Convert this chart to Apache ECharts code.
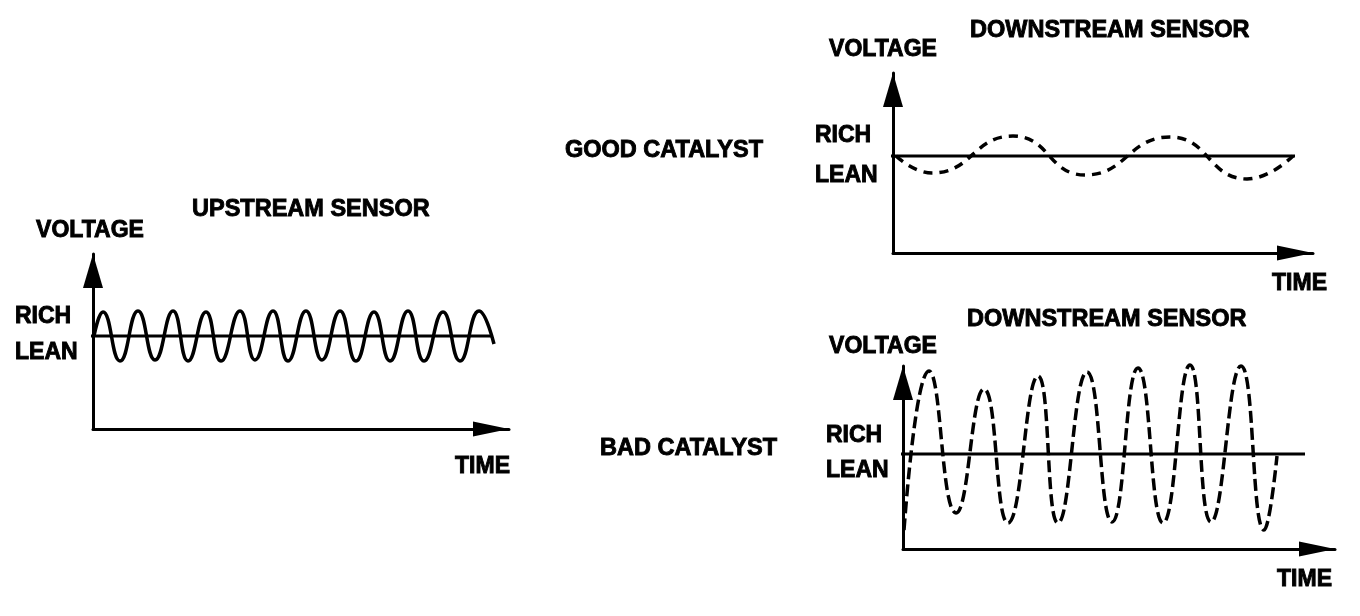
<!DOCTYPE html>
<html>
<head>
<meta charset="utf-8">
<title>Catalyst monitoring - oxygen sensor signals</title>
<script src="https://cdn.jsdelivr.net/npm/echarts@6/dist/echarts.min.js"></script>
<style>
  html, body { margin: 0; background: #fff; }
  #sensors { width: 1360px; height: 616px; }
</style>
</head>
<body>
<div id="sensors"></div>
<script>
// crest / trough readings: time from the voltage axis, voltage from the rich-lean switch point
const upstreamTime = [1, 10, 27, 45, 62, 80, 95, 113, 128, 147, 162, 180, 195, 213, 229, 247, 263, 281, 297, 315, 331, 350, 367, 386, 401];
const upstreamVoltage = [0, 24, -25, 25, -24, 25, -25, 24, -25, 25, -24, 25, -25, 25, -24, 25, -25, 24, -25, 25, -25, 24, -25, 25, -8];

const goodTime = [3, 39, 120, 192, 277, 354, 400];
const goodVoltage = [0, -17, 20, -19, 19, -23, 0];

const badTime = [1, 26, 53, 81, 105, 135, 155, 184, 209, 235, 260, 287, 308, 338, 361, 374];
const badVoltage = [-76, 83, -59, 65, -69, 78, -69, 82, -68, 86, -69, 89, -68, 88, -76, -2];

// rich / lean switch line, start and end time
const upstreamSwitch = [-77, 400];
const goodSwitch = [-78, 402];
const badSwitch = [-65, 402];

const zoneLabels = ["RICH", "LEAN"];
const axisNames = ["TIME", "VOLTAGE"];

const FONT = '"Liberation Sans", Arial, sans-serif';
const INK = "#000";
// a thin outline makes the bold face closer to the heavy print lettering
const text = (size) => ({
  fontSize: size,
  fontWeight: "bold",
  fontFamily: FONT,
  color: INK,
  textBorderColor: INK,
  textBorderWidth: 0.9,
});

function pairs(xs, ys) {
  return xs.map((x, i) => [x, ys[i]]);
}

function timeAxis(idx, max, nameGap, nameTop) {
  return {
    type: "value",
    gridIndex: idx,
    min: 0,
    max: max,
    name: axisNames[0],
    nameLocation: "end",
    nameGap: nameGap,
    nameTextStyle: Object.assign(text(23), {
      align: "right",
      verticalAlign: "top",
      padding: [nameTop, 0, 0, 0],
    }),
    axisLine: {
      onZero: false,
      symbol: ["none", "triangle"],
      symbolSize: [15, 36],
      symbolOffset: [0, -18],
      lineStyle: { color: INK, width: 3 },
    },
    axisTick: { show: false },
    axisLabel: { show: false },
    splitLine: { show: false },
  };
}

function voltAxis(idx, min, max, nameGap, shift, labelAt, margin) {
  return {
    type: "value",
    gridIndex: idx,
    min: min,
    max: max,
    name: axisNames[1],
    nameLocation: "end",
    nameGap: nameGap,
    nameTextStyle: Object.assign(text(23), { padding: [0, shift * 2, 0, 0] }),
    axisLine: {
      onZero: false,
      symbol: ["none", "triangle"],
      symbolSize: [20, 34],
      symbolOffset: [0, -17],
      lineStyle: { color: INK, width: 3 },
    },
    axisTick: { show: false },
    axisLabel: Object.assign(text(23), {
      customValues: labelAt,
      formatter: (v) => (v > 0 ? zoneLabels[0] : zoneLabels[1]),
      align: "left",
      margin: margin,
    }),
    splitLine: { show: false },
  };
}

function switchLine(idx, ends) {
  return {
    type: "line",
    xAxisIndex: idx,
    yAxisIndex: idx,
    data: ends.map((t) => [t, 0]),
    clip: false,
    symbol: "none",
    silent: true,
    lineStyle: { color: INK, width: 3 },
  };
}

function trace(idx, xs, ys, width, dash) {
  return {
    type: "line",
    xAxisIndex: idx,
    yAxisIndex: idx,
    data: pairs(xs, ys),
    smooth: true,
    clip: false,
    symbol: "none",
    silent: true,
    lineStyle: { color: INK, width: width, type: dash },
  };
}

const titles = [
  { text: "UPSTREAM SENSOR", left: 192, top: 198 },
  { text: "DOWNSTREAM SENSOR", left: 970, top: 19 },
  { text: "DOWNSTREAM SENSOR", left: 967, top: 308 },
  { text: "GOOD CATALYST", left: 565, top: 139 },
  { text: "BAD CATALYST", left: 600, top: 437 },
];

const option = {
  animation: false,
  backgroundColor: "#fff",
  title: titles.map((t) => Object.assign(t, { padding: 0, textStyle: text(23.5) })),
  grid: [
    { left: 93, top: 254, width: 416, height: 175 },
    { left: 893, top: 73, width: 420, height: 180 },
    { left: 903, top: 366, width: 432, height: 183 },
  ],
  xAxis: [
    timeAxis(0, 416, 1, 26),
    timeAxis(1, 420, 14, 19),
    timeAxis(2, 432, -3, 19),
  ],
  yAxis: [
    voltAxis(0, -93, 82, 12, 3, [19, -17], 78),
    voltAxis(1, -97, 83, 12, 10, [20, -20], 78),
    voltAxis(2, -95, 88, 8, 20, [18, -17], 77),
  ],
  series: [
    switchLine(0, upstreamSwitch),
    trace(0, upstreamTime, upstreamVoltage, 3.5, "solid"),
    switchLine(1, goodSwitch),
    trace(1, goodTime, goodVoltage, 3.5, [9, 7]),
    switchLine(2, badSwitch),
    trace(2, badTime, badVoltage, 3.5, [12, 5]),
  ],
};

const chart = echarts.init(document.getElementById("sensors"));
chart.setOption(option);
</script>
</body>
</html>
